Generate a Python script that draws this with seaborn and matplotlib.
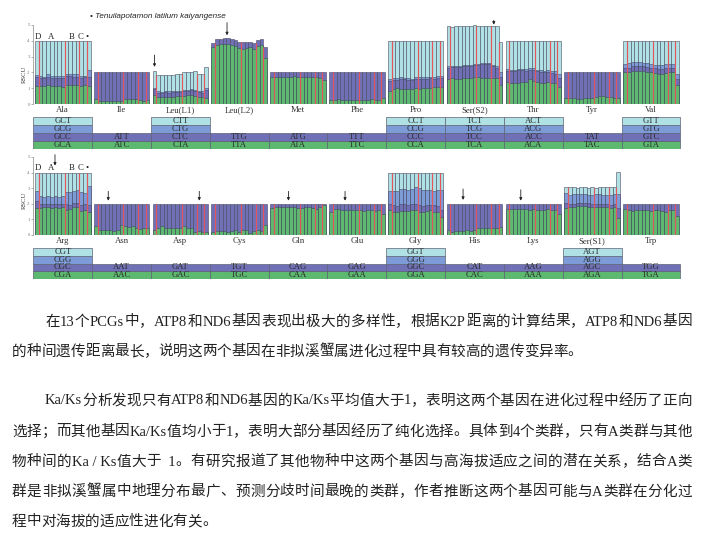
import numpy as np
import pandas as pd
import matplotlib
matplotlib.use("Agg")
import matplotlib.pyplot as plt
from matplotlib.patches import Rectangle
import seaborn as sns

sns.set_theme(style="white")
plt.rcParams['font.family'] = ['Liberation Serif', 'Noto Sans CJK SC', 'DejaVu Sans']

W, H = 702, 536
C_GREEN, C_PURPLE, C_BLUE, C_CYAN = "#5cb96f", "#7070b6", "#7d9cd7", "#b0e2e5"
LAYER_COLORS = [C_GREEN, C_PURPLE, C_BLUE, C_CYAN]
EDGE = "#45455c"
RED = "#e4545a"

SUBGROUPS = ["D", "A", "B", "C", "•"]
SUBGROUP_SIZES = [1, 7, 4, 2, 1]

# ---------------- data (RSCU per codon, 15 mitogenomes per amino acid) -------------
# each amino acid: lists from bottom of the stack to the top
ROW1_AA = ["Ala", "Ile", "Leu(L1)", "Leu(L2)", "Met", "Phe", "Pro", "Ser(S2)", "Thr", "Tyr", "Val"]
ROW1_CODONS = [["GCA", "GCC", "GCG", "GCT"], ["ATC", "ATT"], ["CTA", "CTC", "CTG", "CTT"],
               ["TTA", "TTG"], ["ATA", "ATG"], ["TTC", "TTT"], ["CCA", "CCC", "CCG", "CCT"],
               ["TCA", "TCC", "TCG", "TCT"], ["ACA", "ACC", "ACG", "ACT"], ["TAC", "TAT"],
               ["GTA", "GTC", "GTG", "GTT"]]
ROW2_AA = ["Arg", "Asn", "Asp", "Cys", "Gln", "Glu", "Gly", "His", "Lys", "Ser(S1)", "Trp"]
ROW2_CODONS = [["CGA", "CGC", "CGG", "CGT"], ["AAC", "AAT"], ["GAC", "GAT"], ["TGC", "TGT"],
               ["CAA", "CAG"], ["GAA", "GAG"], ["GGA", "GGC", "GGG", "GGT"], ["CAC", "CAT"],
               ["AAA", "AAG"], ["AGA", "AGC", "AGG", "AGT"], ["TGA", "TGG"]]

ALA = [[1.15, 1.12, 1.12, 1.18, 1.15, 1.12, 1.12, 1.10, 1.22, 1.22, 1.18, 1.20, 1.12, 1.18, 1.12],
       [0.55, 0.55, 0.50, 0.55, 0.52, 0.55, 0.52, 0.55, 0.55, 0.55, 0.55, 0.52, 0.55, 0.50, 0.60],
       [0.12, 0.12, 0.12, 0.15, 0.12, 0.12, 0.12, 0.12, 0.15, 0.15, 0.15, 0.15, 0.12, 0.12, 0.45],
       [2.18, 2.21, 2.26, 2.12, 2.21, 2.21, 2.24, 2.23, 2.08, 2.08, 2.12, 2.13, 2.21, 2.20, 1.83]]
ILE = [[0.30, 0.18, 0.18, 0.18, 0.18, 0.18, 0.18, 0.20, 0.30, 0.32, 0.32, 0.30, 0.25, 0.22, 0.28],
       [1.70, 1.82, 1.82, 1.82, 1.82, 1.82, 1.82, 1.80, 1.70, 1.68, 1.68, 1.70, 1.75, 1.78, 1.72]]
LEU1 = [[0.55, 0.42, 0.42, 0.45, 0.42, 0.45, 0.48, 0.48, 0.52, 0.55, 0.58, 0.52, 0.45, 0.42, 0.35],
        [0.40, 0.30, 0.28, 0.28, 0.30, 0.28, 0.28, 0.28, 0.28, 0.28, 0.28, 0.30, 0.30, 0.30, 0.55],
        [0.05, 0.08, 0.08, 0.08, 0.08, 0.08, 0.08, 0.08, 0.08, 0.08, 0.08, 0.08, 0.08, 0.08, 0.10],
        [1.10, 1.02, 1.04, 1.02, 1.05, 1.04, 1.04, 1.08, 1.14, 1.12, 1.11, 1.18, 1.09, 1.10, 1.32]]
LEU2 = [[3.60, 3.75, 3.78, 3.80, 3.80, 3.75, 3.70, 3.55, 3.50, 3.55, 3.60, 3.45, 3.70, 3.75, 2.90],
        [0.28, 0.35, 0.34, 0.35, 0.35, 0.35, 0.35, 0.40, 0.45, 0.40, 0.30, 0.40, 0.35, 0.35, 0.70]]
MET = [[1.70, 1.72, 1.72, 1.72, 1.70, 1.72, 1.75, 1.68, 1.68, 1.70, 1.70, 1.70, 1.68, 1.62, 1.52],
       [0.30, 0.28, 0.28, 0.28, 0.30, 0.28, 0.25, 0.32, 0.32, 0.30, 0.30, 0.30, 0.32, 0.38, 0.48]]
PHE = [[0.25, 0.28, 0.30, 0.28, 0.28, 0.25, 0.25, 0.25, 0.25, 0.25, 0.28, 0.30, 0.28, 0.28, 0.38],
       [1.75, 1.72, 1.70, 1.72, 1.72, 1.75, 1.75, 1.75, 1.75, 1.75, 1.72, 1.70, 1.72, 1.72, 1.62]]
PRO = [[0.80, 0.95, 1.00, 0.98, 0.98, 0.95, 0.95, 1.00, 0.98, 1.00, 1.00, 1.02, 1.05, 1.05, 1.05],
       [0.65, 0.60, 0.55, 0.60, 0.58, 0.58, 0.55, 0.60, 0.60, 0.58, 0.60, 0.60, 0.55, 0.60, 0.60],
       [0.15, 0.12, 0.12, 0.10, 0.10, 0.10, 0.10, 0.12, 0.10, 0.12, 0.12, 0.12, 0.12, 0.12, 0.15],
       [2.40, 2.33, 2.33, 2.32, 2.34, 2.37, 2.40, 2.28, 2.32, 2.30, 2.28, 2.26, 2.28, 2.23, 2.20]]
SER2 = [[1.60, 1.62, 1.60, 1.60, 1.62, 1.65, 1.65, 1.68, 1.68, 1.65, 1.62, 1.65, 1.65, 1.62, 1.20],
        [0.70, 0.72, 0.75, 0.75, 0.78, 0.75, 0.75, 0.78, 0.80, 0.85, 0.88, 0.85, 0.75, 0.65, 0.50],
        [0.08, 0.08, 0.08, 0.08, 0.08, 0.08, 0.08, 0.08, 0.08, 0.08, 0.08, 0.08, 0.08, 0.15, 0.30],
        [2.54, 2.48, 2.49, 2.49, 2.47, 2.47, 2.47, 2.43, 2.39, 2.37, 2.37, 2.35, 2.45, 2.53, 1.95]]
THR = [[1.40, 1.35, 1.32, 1.35, 1.38, 1.40, 1.60, 1.45, 1.38, 1.35, 1.35, 1.38, 1.35, 1.30, 1.05],
       [0.70, 0.72, 0.75, 0.78, 0.75, 0.72, 0.55, 0.72, 0.70, 0.70, 0.65, 0.65, 0.62, 0.60, 0.60],
       [0.10, 0.10, 0.10, 0.10, 0.10, 0.10, 0.10, 0.10, 0.10, 0.10, 0.12, 0.12, 0.15, 0.20, 0.25],
       [1.80, 1.83, 1.83, 1.77, 1.77, 1.78, 1.75, 1.73, 1.82, 1.85, 1.88, 1.85, 1.88, 1.90, 2.10]]
TYR = [[0.35, 0.35, 0.35, 0.32, 0.32, 0.35, 0.35, 0.35, 0.45, 0.48, 0.48, 0.45, 0.42, 0.40, 0.38],
       [1.65, 1.65, 1.65, 1.68, 1.68, 1.65, 1.65, 1.65, 1.55, 1.52, 1.52, 1.55, 1.58, 1.60, 1.62]]
VAL = [[2.05, 2.00, 2.10, 2.12, 2.12, 2.10, 2.05, 2.00, 1.95, 1.90, 1.90, 1.95, 2.00, 2.05, 1.20],
       [0.25, 0.30, 0.30, 0.30, 0.30, 0.30, 0.30, 0.30, 0.30, 0.30, 0.30, 0.30, 0.25, 0.25, 0.40],
       [0.25, 0.30, 0.25, 0.22, 0.22, 0.22, 0.25, 0.22, 0.22, 0.25, 0.25, 0.25, 0.25, 0.25, 0.30],
       [1.45, 1.40, 1.35, 1.36, 1.36, 1.38, 1.40, 1.48, 1.53, 1.55, 1.55, 1.50, 1.50, 1.45, 2.10]]

ARG = [[1.75, 1.72, 1.80, 1.78, 1.72, 1.78, 1.75, 1.80, 1.62, 1.65, 1.82, 1.80, 1.52, 1.58, 1.45],
       [0.40, 0.25, 0.20, 0.22, 0.25, 0.20, 0.22, 0.20, 0.35, 0.30, 0.20, 0.25, 0.40, 0.40, 0.50],
       [0.65, 0.50, 0.45, 0.50, 0.45, 0.50, 0.45, 0.50, 0.80, 0.80, 0.80, 0.85, 0.85, 0.70, 1.20],
       [1.20, 1.53, 1.55, 1.50, 1.58, 1.52, 1.58, 1.50, 1.23, 1.25, 1.18, 1.10, 1.23, 1.32, 0.85]]
ASN = [[0.55, 0.30, 0.30, 0.30, 0.30, 0.28, 0.35, 0.62, 0.58, 0.52, 0.55, 0.48, 0.40, 0.42, 0.42],
       [1.45, 1.70, 1.70, 1.70, 1.70, 1.72, 1.65, 1.38, 1.42, 1.48, 1.45, 1.52, 1.60, 1.58, 1.58]]
ASP = [[0.35, 0.42, 0.55, 0.45, 0.42, 0.45, 0.48, 0.42, 0.55, 0.48, 0.45, 0.22, 0.25, 0.22, 0.20],
       [1.65, 1.58, 1.45, 1.55, 1.58, 1.55, 1.52, 1.58, 1.45, 1.52, 1.55, 1.78, 1.75, 1.78, 1.80]]
CYS = [[0.22, 0.28, 0.28, 0.25, 0.22, 0.28, 0.32, 0.22, 0.32, 0.35, 0.15, 0.28, 0.30, 0.28, 0.65],
       [1.78, 1.72, 1.72, 1.75, 1.78, 1.72, 1.68, 1.78, 1.68, 1.65, 1.85, 1.72, 1.70, 1.72, 1.35]]
GLN = [[1.70, 1.80, 1.82, 1.82, 1.82, 1.80, 1.82, 1.75, 1.72, 1.78, 1.78, 1.72, 1.65, 1.80, 1.95],
       [0.30, 0.20, 0.18, 0.18, 0.18, 0.20, 0.18, 0.25, 0.28, 0.22, 0.22, 0.28, 0.35, 0.20, 0.05]]
GLU = [[1.45, 1.65, 1.65, 1.62, 1.58, 1.60, 1.58, 1.60, 1.60, 1.55, 1.62, 1.62, 1.55, 1.60, 1.35],
       [0.55, 0.35, 0.35, 0.38, 0.42, 0.40, 0.42, 0.40, 0.40, 0.45, 0.38, 0.38, 0.45, 0.40, 0.65]]
GLY = [[1.60, 1.50, 1.50, 1.55, 1.52, 1.55, 1.60, 1.58, 1.50, 1.48, 1.55, 1.58, 1.50, 1.50, 1.15],
       [0.40, 0.40, 0.35, 0.45, 0.45, 0.35, 0.40, 0.42, 0.40, 0.40, 0.35, 0.35, 0.40, 0.35, 0.45],
       [0.85, 0.95, 0.95, 0.95, 0.95, 1.00, 0.95, 1.05, 1.10, 1.00, 1.00, 0.95, 0.95, 1.05, 1.30],
       [1.15, 1.15, 1.20, 1.05, 1.08, 1.10, 1.05, 0.95, 1.00, 1.12, 1.10, 1.12, 1.15, 1.10, 1.10]]
HIS = [[0.35, 0.20, 0.25, 0.25, 0.28, 0.30, 0.28, 0.32, 0.42, 0.45, 0.42, 0.45, 0.42, 0.48, 0.52],
       [1.65, 1.80, 1.75, 1.75, 1.72, 1.70, 1.72, 1.68, 1.58, 1.55, 1.58, 1.55, 1.58, 1.52, 1.48]]
LYS = [[1.65, 1.65, 1.65, 1.68, 1.65, 1.65, 1.62, 1.65, 1.58, 1.62, 1.62, 1.65, 1.62, 1.62, 1.35],
       [0.35, 0.35, 0.35, 0.32, 0.35, 0.35, 0.38, 0.35, 0.42, 0.38, 0.38, 0.35, 0.38, 0.38, 0.65]]
SER1 = [[1.72, 1.80, 1.82, 1.85, 1.85, 1.85, 1.82, 1.80, 1.78, 1.80, 1.78, 1.78, 1.75, 1.80, 1.10],
        [0.30, 0.20, 0.18, 0.20, 0.20, 0.18, 0.20, 0.20, 0.22, 0.20, 0.20, 0.22, 0.20, 0.20, 0.60],
        [0.65, 0.55, 0.60, 0.55, 0.55, 0.60, 0.55, 0.55, 0.60, 0.65, 0.60, 0.55, 0.60, 0.60, 0.90],
        [0.43, 0.50, 0.45, 0.42, 0.45, 0.42, 0.43, 0.50, 0.42, 0.43, 0.47, 0.50, 0.50, 0.45, 1.45]]
TRP = [[1.65, 1.60, 1.55, 1.58, 1.62, 1.62, 1.58, 1.55, 1.60, 1.62, 1.55, 1.50, 1.58, 1.62, 1.20],
       [0.35, 0.40, 0.45, 0.42, 0.38, 0.38, 0.42, 0.45, 0.40, 0.38, 0.45, 0.50, 0.42, 0.38, 0.80]]

ROW1_DATA = [ALA, ILE, LEU1, LEU2, MET, PHE, PRO, SER2, THR, TYR, VAL]
ROW2_DATA = [ARG, ASN, ASP, CYS, GLN, GLU, GLY, HIS, LYS, SER1, TRP]

# arrows (position of the marked mitogenome, in bar units) and their y span
ROW1_ARROWS = [(31.8, 3.10, 2.35), (51.4, 5.15, 4.35), (123.5, 5.30, 5.02)]
ROW2_ARROWS = [(4.9, 5.15, 4.45), (19.3, 2.80, 2.20), (43.9, 2.80, 2.20), (68.0, 2.80, 2.20),
               (83.3, 2.80, 2.20), (115.2, 2.95, 2.25), (130.8, 2.90, 2.20)]

TEXT_LINES = [
    ("在13个PCGs中，ATP8和ND6基因表现出极大的多样性，根据K2P距离的计算结果，ATP8和ND6基因", 45, 322, True),
    ("的种间遗传距离最长，说明这两个基因在非拟溪蟹属进化过程中具有较高的遗传变异率。", 12, 352, False),
    ("Ka/Ks分析发现只有ATP8和ND6基因的Ka/Ks平均值大于1，表明这两个基因在进化过程中经历了正向", 45, 401, True),
    ("选择；而其他基因Ka/Ks值均小于1，表明大部分基因经历了纯化选择。具体到4个类群，只有A类群与其他", 12, 432, True),
    ("物种间的Ka / Ks值大于  1。有研究报道了其他物种中这两个基因与高海拔适应之间的潜在关系，结合A类", 12, 462, True),
    ("群是非拟溪蟹属中地理分布最广、预测分歧时间最晚的类群，作者推断这两个基因可能与A类群在分化过", 12, 492, True),
    ("程中对海拔的适应性进化有关。", 12, 522, False),
]

# ---------------- layout helpers ----------------
P = 15.9          # group pitch in bar units
NB = 15
XL = (-1.05, 174.5)
fig = plt.figure(figsize=(W / 100, H / 100), dpi=100)
fig.patch.set_facecolor("white")


def build(groups):
    recs = []
    for g, layers in enumerate(groups):
        cum = np.zeros(NB)
        for k, vals in enumerate(layers):
            cum = cum + np.asarray(vals)
            for i in range(NB):
                recs.append(dict(pos=round(g * P + i, 3), layer=k, top=cum[i], group=g, bar=i))
    return pd.DataFrame(recs)


def fig_rect(top_px, bottom_px):
    return [32.97 / W, 1 - bottom_px / H, 649.5 / W, (bottom_px - top_px) / H]


def draw_bars(ax, groups, names, arrows, lab_y):
    df = build(groups)
    for k in [3, 2, 1, 0]:
        sub = df[df.layer == k]
        if sub.empty:
            continue
        sns.barplot(data=sub, x="pos", y="top", native_scale=True, orient="x", width=1.0,
                    color=LAYER_COLORS[k], saturation=1, edgecolor=EDGE, linewidth=0.38,
                    errorbar=None, ax=ax)
    # red separators between subgroups D | A | B | C | •
    bounds = np.cumsum(SUBGROUP_SIZES)[:-1] - 1
    totals = df.groupby(["group", "bar"])["top"].max()
    for g in range(len(groups)):
        for b in bounds:
            top = min(totals[(g, b)], totals[(g, b + 1)])
            ax.vlines(g * P + b + 0.5, 0, top, color=RED, lw=0.85, zorder=5)
        ax.text(g * P + 7, -0.38, names[g], ha="center", va="center", fontsize=6.3,
                color="#333333", clip_on=False)
    ax.set_xlim(*XL)
    ax.set_ylim(0, 5)
    ax.set_xlabel("")
    ax.set_ylabel("")
    ax.set_xticks([])
    ax.set_yticks(range(6))
    ax.tick_params(axis="y", labelsize=3.5, length=1.5, width=0.4, colors="#777777", pad=0.8, left=True)
    for s in ["top", "right", "bottom"]:
        ax.spines[s].set_visible(False)
    ax.spines["left"].set_color("#8a8a8a")
    ax.spines["left"].set_linewidth(0.5)
    ax.set_facecolor("none")
    for x, y0, y1 in arrows:
        ax.annotate("", xy=(x, y1), xytext=(x, y0), annotation_clip=False,
                    arrowprops=dict(arrowstyle="-|>", lw=0.6, color="#222222",
                                    mutation_scale=4, shrinkA=0, shrinkB=0))
    for lab, xp in zip(SUBGROUPS, [0.18, 3.8, 9.4, 11.9, 13.7]):
        ax.text(xp, lab_y, lab, ha="center", va="center", fontsize=6.3, color="#222222",
                clip_on=False)


def draw_table(tax, codon_list):
    tax.set_xlim(*XL)
    tax.set_ylim(0, 4)
    tax.axis("off")
    for g, codons in enumerate(codon_list):
        left = g * P - 0.5 - (P - NB) / 2
        for k, cod in enumerate(codons):
            tax.add_patch(Rectangle((left, k), P, 1, facecolor=LAYER_COLORS[k],
                                    edgecolor="#5d6275", lw=0.5))
            tax.text(left + P / 2, k + 0.5, cod, ha="center", va="center", fontsize=6.2,
                     color="#2a2a2a")


ax1 = fig.add_axes(fig_rect(25, 104))
draw_bars(ax1, ROW1_DATA, ROW1_AA, ROW1_ARROWS, 4.24)
t1 = fig.add_axes(fig_rect(117, 149))
draw_table(t1, ROW1_CODONS)

ax2 = fig.add_axes(fig_rect(157, 235))
draw_bars(ax2, ROW2_DATA, ROW2_AA, ROW2_ARROWS, 4.3)
t2 = fig.add_axes(fig_rect(248, 279))
draw_table(t2, ROW2_CODONS)

fig.text(24 / W, 1 - 74 / H, "RSCU", rotation=90, ha="center", va="center", fontsize=4.8, color="#333333")
fig.text(24 / W, 1 - 200 / H, "RSCU", rotation=90, ha="center", va="center", fontsize=4.8, color="#333333")
fig.text(90 / W, 1 - 16 / H, "• Tenuilapotamon latilum kaiyangense", ha="left", va="center",
         fontsize=5.9, style="italic", family=["Liberation Sans", "DejaVu Sans"], color="#222222")

# ---------------- paragraph text (justified lines) ----------------
FS = 10.5
TXT = "#222222"
renderer = fig.canvas.get_renderer()


def tokens(line):
    out, run = [], ""
    for ch in line:
        if ord(ch) >= 0x2E80:
            if run:
                out.append(run)
                run = ""
            out.append(ch)
        else:
            run += ch
    if run:
        out.append(run)
    return out


for line, x0, yc, just in TEXT_LINES:
    toks = tokens(line)
    ts = [fig.text(0, 0, t, fontsize=FS, color=TXT, ha="left", va="center", weight="light")
          for t in toks]
    ws = [t.get_window_extent(renderer).width for t in ts]
    gap = (692 - x0 - sum(ws)) / (len(toks) - 1) if just and len(toks) > 1 else 0.0
    x = x0
    for t, w in zip(ts, ws):
        t.set_position((x / W, 1 - yc / H))
        x += w + gap

fig.savefig("out.png", dpi=100, facecolor="white")
